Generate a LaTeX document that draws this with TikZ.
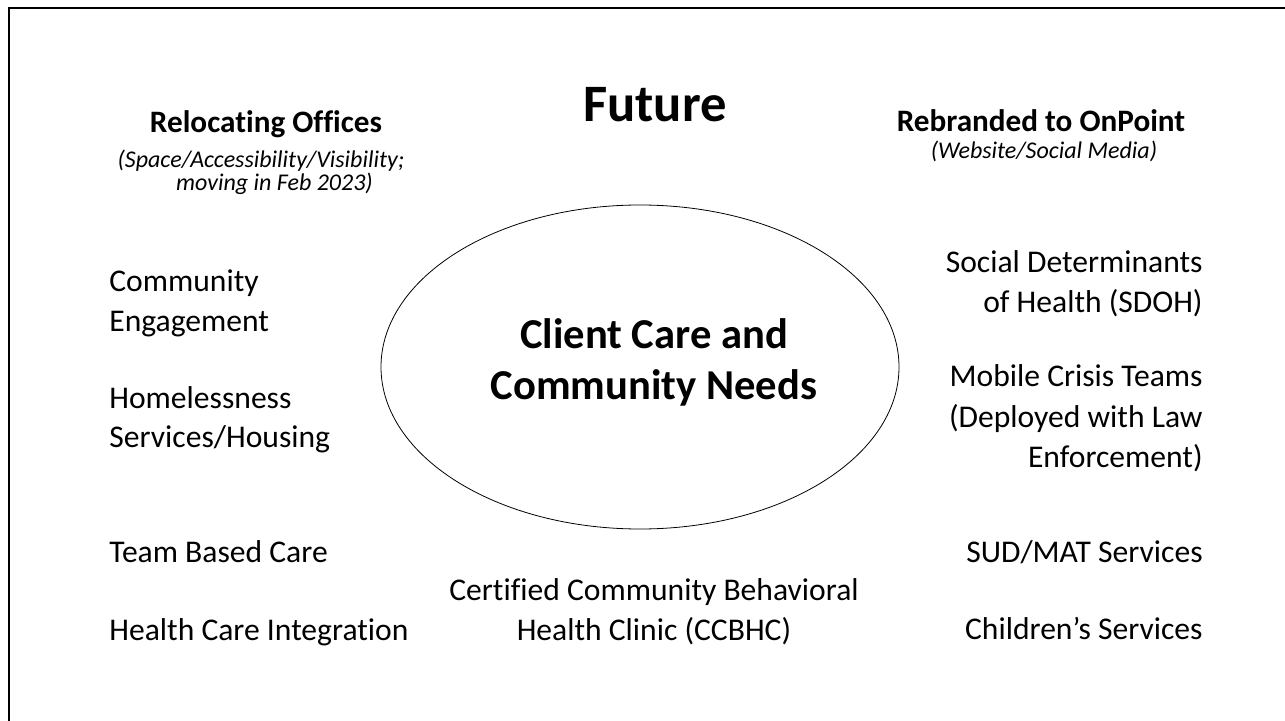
\documentclass[tikz,border=0pt]{standalone}
\usepackage{fontspec}
\setmainfont[Ligatures=NoCommon]{Carlito}
\usetikzlibrary{shapes}

\begin{document}
\begin{tikzpicture}[x=0.5pt, y=-0.5pt,
    item/.style={inner sep=0pt, font=\fontsize{15.8}{20}\selectfont},
    head/.style={inner sep=0pt, font=\fontsize{15.6}{19}\selectfont\bfseries},
    note/.style={inner sep=0pt, font=\fontsize{12}{11.5}\selectfont\itshape}]
  \clip (0,0) rectangle (1285,721);
  \draw[line width=1pt] (9,8) rectangle (1300,740);
  % top
  \node (future) [inner sep=0pt, anchor=base, font=\fontsize{26.3}{30}\selectfont\bfseries]
        at (655,121.7) {Future};
  \node (reloc) [head, anchor=base] at (266,132.7) {Relocating Offices};
  \node (relocsub) [note, anchor=base, align=center] at (261,191)
        {(Space/Accessibility/Visibility;\\ \hspace*{13.5pt}moving in Feb 2023)};
  \node (rebrand) [head, anchor=base] at (1041,131.7) {Rebranded to OnPoint};
  \node (rebrandsub) [note, anchor=base] at (1044,159) {(Website/Social Media)};
  % middle
  \node (hub) [ellipse, draw, inner sep=0pt, minimum width=259pt, minimum height=162pt]
        at (640,367) {};
  \node (needs) [inner sep=0pt, anchor=base, align=center,
        font=\fontsize{21.3}{25.5}\selectfont\bfseries] at (654,400)
        {Client Care and\\ Community Needs};
  % left side
  \node (engage) [item, anchor=base west, align=left] at (109,331.7) {Community\\ Engagement};
  \node (housing) [item, anchor=base west, align=left] at (109,448) {Homelessness\\ Services/Housing};
  \node (team) [item, anchor=base west] at (109,562.3) {Team Based Care};
  \node (integr) [item, anchor=base west] at (109,640) {Health Care Integration};
  % right side
  \node (sdoh) [item, anchor=base east, align=right] at (1203,313) {Social Determinants\\ of Health (SDOH)};
  \node (crisis) [item, anchor=base east, align=right] at (1203,467)
        {Mobile Crisis Teams\\ (Deployed with Law\\ Enforcement)};
  \node (sud) [item, anchor=base east] at (1203,562) {SUD/MAT Services};
  \node (kids) [item, anchor=base east] at (1203,639) {Children’s Services};
  % bottom
  \node (ccbhc) [item, anchor=base, align=center] at (654,640)
        {Certified Community Behavioral\\ Health Clinic (CCBHC)};
\end{tikzpicture}
\end{document}
